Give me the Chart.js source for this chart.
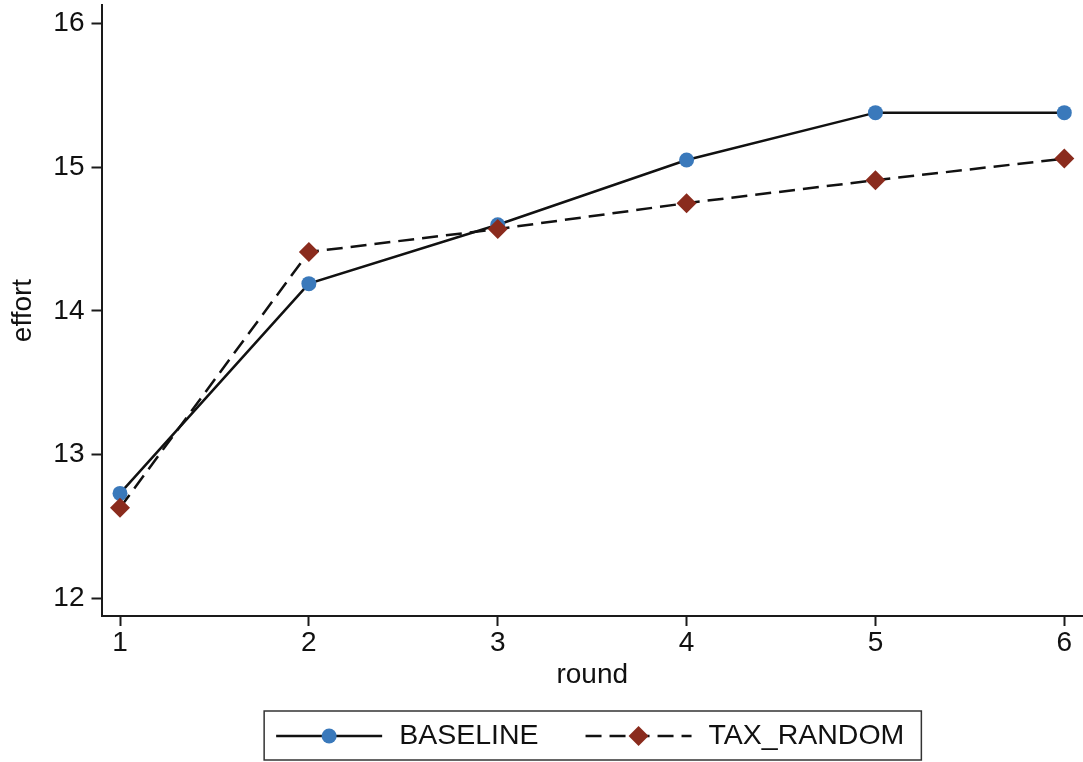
<!DOCTYPE html>
<html>
<head>
<meta charset="utf-8">
<script src="https://cdn.jsdelivr.net/npm/chart.js@4/dist/chart.umd.min.js"></script>
<style>
  html, body { margin: 0; padding: 0; background: #ffffff; }
  #wrap { width: 1083px; height: 762px; }
</style>
</head>
<body>
<div id="wrap"><canvas id="chart" width="1083" height="762"></canvas></div>
<script>
// Mean effort per round for each treatment
const rounds = [1, 2, 3, 4, 5, 6];
const baseline = [12.73, 14.19, 14.60, 15.05, 15.38, 15.38];
const taxRandom = [12.63, 14.41, 14.57, 14.75, 14.91, 15.06];
const xTicks = [1, 2, 3, 4, 5, 6];
const yTicks = [12, 13, 14, 15, 16];
const seriesNames = ['BASELINE', 'TAX_RANDOM'];

const FONT = '"Liberation Sans", Arial, Helvetica, sans-serif';
const INK = '#1a1a1a';

const toPoints = ys => rounds.map((r, i) => ({ x: r, y: ys[i] }));

// Legend drawn in a framed box below the plot, centred on the plot area
const framedLegend = {
  id: 'framedLegend',
  afterDraw(chart) {
    const { ctx, chartArea } = chart;
    const sampleW = 106, gapText = 17, gapItem = 47, padL = 12, padR = 17;
    ctx.save();
    ctx.font = '28.5px ' + FONT;
    const items = chart.data.datasets.map(ds => ({ ds, w: ctx.measureText(ds.label).width }));
    const contentW = items.reduce((s, it) => s + sampleW + gapText + it.w, 0) + gapItem * (items.length - 1);
    let x = (chartArea.left + chartArea.right) / 2 - contentW / 2 - 2;
    const boxBottom = chart.height - 2;
    const boxTop = boxBottom - 49;
    const cy = (boxTop + boxBottom) / 2 + 0.5;

    ctx.lineWidth = 1.5;
    ctx.strokeStyle = '#333333';
    ctx.strokeRect(x - padL, boxTop, contentW + padL + padR, boxBottom - boxTop);

    items.forEach(({ ds, w }) => {
      ctx.save();
      ctx.strokeStyle = ds.borderColor;
      ctx.lineWidth = ds.borderWidth;
      ctx.setLineDash(ds.borderDash || []);
      ctx.beginPath();
      ctx.moveTo(x, cy);
      ctx.lineTo(x + sampleW, cy);
      ctx.stroke();
      ctx.restore();

      ctx.save();
      ctx.fillStyle = ds.pointBackgroundColor;
      ctx.strokeStyle = ds.pointBackgroundColor;
      Chart.helpers.drawPoint(ctx, {
        pointStyle: ds.pointStyle, radius: ds.pointRadius, rotation: 0, borderWidth: 0
      }, x + sampleW / 2, cy);
      ctx.restore();

      ctx.fillStyle = '#111111';
      ctx.textAlign = 'left';
      ctx.textBaseline = 'middle';
      ctx.fillText(ds.label, x + sampleW + gapText, cy);
      x += sampleW + gapText + w + gapItem;
    });
    ctx.restore();
  }
};

const axisCommon = {
  grid: {
    display: true, drawOnChartArea: false, drawTicks: true,
    tickLength: 10, tickWidth: 2, tickColor: INK
  },
  border: { display: true, color: INK, width: 2 }
};

new Chart(document.getElementById('chart'), {
  type: 'line',
  data: {
    datasets: [
      {
        label: seriesNames[0],
        data: toPoints(baseline),
        borderColor: '#111111',
        borderWidth: 2.5,
        borderDash: [],
        tension: 0,
        pointStyle: 'circle',
        pointRadius: 7.5,
        pointHoverRadius: 7.5,
        pointBorderWidth: 0,
        pointBackgroundColor: '#3a79bb',
        pointBorderColor: '#3a79bb',
        order: 2
      },
      {
        label: seriesNames[1],
        data: toPoints(taxRandom),
        borderColor: '#111111',
        borderWidth: 2.5,
        borderDash: [16, 8],
        tension: 0,
        pointStyle: 'rectRot',
        pointRadius: 10,
        pointHoverRadius: 10,
        pointBorderWidth: 0,
        pointBackgroundColor: '#8a2b1d',
        pointBorderColor: '#8a2b1d',
        order: 1
      }
    ]
  },
  options: {
    responsive: false,
    animation: false,
    devicePixelRatio: 1,
    layout: { autoPadding: false, padding: { top: 5, bottom: 66, left: 0, right: 0 } },
    plugins: {
      legend: { display: false },
      tooltip: { enabled: false }
    },
    scales: {
      x: {
        type: 'linear',
        position: 'bottom',
        min: 0.902,
        max: 6.099,
        ...axisCommon,
        afterBuildTicks: s => { s.ticks = xTicks.map(v => ({ value: v })); },
        afterFit: s => { s.height = 80; s.paddingLeft = 0; s.paddingRight = 0; },
        ticks: {
          color: '#111111', padding: 0, maxRotation: 0, autoSkip: false,
          font: { family: FONT, size: 28 },
          callback: v => String(v)
        },
        title: {
          display: true, text: 'round', color: '#111111',
          font: { family: FONT, size: 28 },
          padding: { top: 0, bottom: 4 }
        }
      },
      y: {
        type: 'linear',
        position: 'left',
        min: 11.877,
        max: 16.129,
        ...axisCommon,
        afterBuildTicks: s => { s.ticks = yTicks.map(v => ({ value: v })); },
        afterFit: s => { s.width = 101.5; s.paddingTop = 0; s.paddingBottom = 0; },
        ticks: {
          color: '#111111', padding: 7, autoSkip: false,
          font: { family: FONT, size: 28 },
          callback: v => String(v)
        },
        title: {
          display: true, text: 'effort', color: '#111111',
          font: { family: FONT, size: 28 },
          padding: { top: 6.5, bottom: 0 }
        }
      }
    }
  },
  plugins: [framedLegend]
});
</script>
</body>
</html>
